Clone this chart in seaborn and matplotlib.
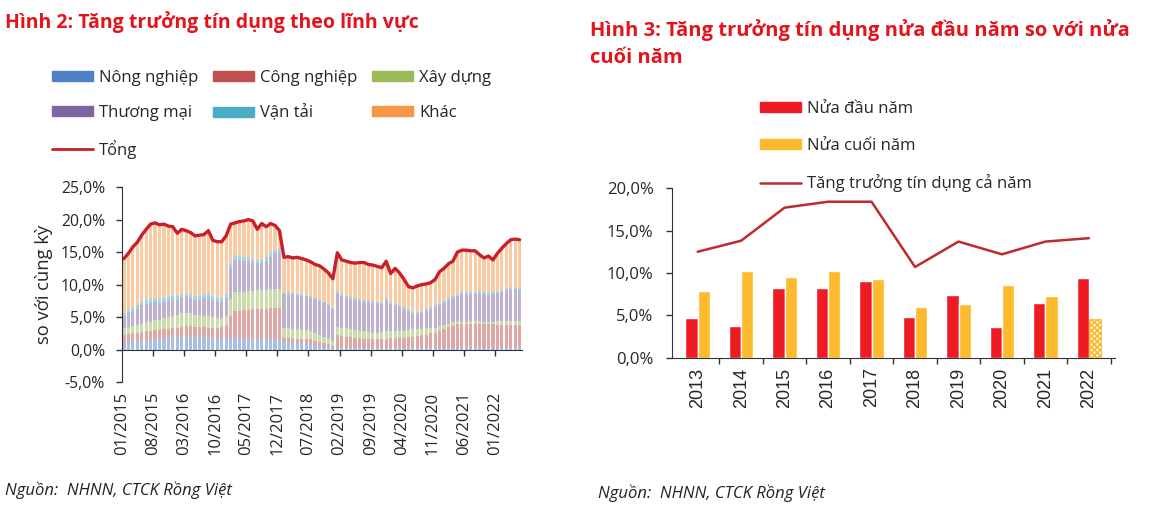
import numpy as np
import pandas as pd
import seaborn as sns
import matplotlib.pyplot as plt
from matplotlib.ticker import FuncFormatter
from matplotlib.patches import Patch
from matplotlib.lines import Line2D

# ---- Hình 2: tăng trưởng tín dụng theo lĩnh vực (so với cùng kỳ, %), 01/2015 - 06/2022
nong_nghiep = [1.0, 1.1, 1.2, 1.3, 1.4, 1.4, 1.5, 1.6, 1.7, 1.8,
               1.9, 1.9, 2.0, 2.0, 2.0, 2.0, 1.9, 1.9, 1.9, 1.9,
               1.8, 1.8, 1.8, 1.8, 1.8, 1.8, 1.8, 1.7, 1.7, 1.7,
               1.7, 1.7, 1.6, 1.6, 1.6, 1.6, 1.1, 1.1, 1.0, 1.0,
               0.9, 0.9, 0.8, 0.7, 0.6, 0.5, 0.4, 0.3, 0.2, 0.2,
               0.2, 0.2, 0.2, 0.2, 0.2, 0.2, 0.2, 0.2, 0.2, 0.2,
               0.2, 0.2, 0.2, 0.2, 0.2, 0.2, 0.2, 0.2, 0.2, 0.2,
               0.3, 0.3, 0.3, 0.3, 0.3, 0.3, 0.3, 0.3, 0.3, 0.3,
               0.3, 0.3, 0.3, 0.3, 0.3, 0.3, 0.3, 0.3, 0.3, 0.3]
cong_nghiep = [1.3, 1.3, 1.3, 1.3, 1.3, 1.4, 1.4, 1.4, 1.3, 1.3,
               1.3, 1.4, 1.4, 1.5, 1.6, 1.6, 1.6, 1.6, 1.6, 1.5,
               1.6, 1.6, 1.7, 2.0, 3.4, 4.2, 4.2, 4.4, 4.4, 4.5,
               4.6, 4.6, 4.7, 4.8, 4.8, 4.8, 0.7, 0.7, 0.8, 0.7,
               0.8, 0.7, 0.8, 0.7, 0.6, 0.5, 0.4, 0.3, 2.0, 1.9,
               1.8, 1.7, 1.6, 1.6, 1.5, 1.5, 1.4, 1.4, 1.5, 1.5,
               1.6, 1.6, 1.6, 1.6, 1.7, 1.8, 1.9, 2.0, 2.1, 2.3,
               2.3, 2.6, 2.9, 3.2, 3.4, 3.6, 3.6, 3.6, 3.7, 3.7,
               3.7, 3.6, 3.6, 3.6, 3.5, 3.5, 3.5, 3.5, 3.5, 3.5]
xay_dung = [1.0, 1.1, 1.2, 1.2, 1.3, 1.4, 1.4, 1.5, 1.6, 1.7,
            1.8, 1.9, 2.0, 2.1, 2.1, 2.0, 1.9, 1.8, 1.7, 1.7,
            1.6, 1.5, 1.4, 1.4, 2.6, 2.8, 2.8, 2.8, 2.9, 2.8,
            2.8, 2.9, 2.9, 2.9, 3.0, 3.0, 1.6, 1.5, 1.4, 1.4,
            1.3, 1.4, 1.3, 1.2, 1.1, 1.0, 0.8, 0.7, 1.3, 1.3,
            1.3, 1.2, 1.2, 1.1, 1.1, 1.0, 1.0, 1.0, 1.0, 1.1,
            1.1, 1.1, 1.1, 1.1, 1.1, 1.1, 1.0, 1.0, 1.0, 0.8,
            0.8, 0.7, 0.6, 0.5, 0.5, 0.5, 0.4, 0.4, 0.4, 0.4,
            0.4, 0.4, 0.4, 0.4, 0.6, 0.6, 0.6, 0.6, 0.6, 0.6]
thuong_mai = [1.9, 2.2, 2.3, 2.5, 2.8, 2.8, 2.9, 2.8, 2.6, 2.6,
              2.6, 2.6, 2.3, 2.4, 2.5, 2.4, 2.3, 2.3, 2.7, 3.0,
              2.6, 2.6, 2.5, 2.8, 4.7, 5.0, 4.9, 4.7, 4.6, 4.5,
              4.2, 4.2, 4.4, 5.0, 5.4, 5.6, 5.1, 5.3, 5.3, 5.3,
              5.3, 5.2, 5.1, 5.2, 5.2, 5.2, 5.2, 4.9, 5.2, 4.9,
              4.7, 4.7, 4.6, 4.6, 4.6, 4.6, 4.6, 4.5, 4.3, 4.8,
              4.1, 3.9, 3.7, 3.3, 2.9, 2.4, 2.4, 2.5, 2.6, 2.9,
              3.2, 3.3, 3.4, 3.6, 3.8, 3.9, 4.2, 4.2, 4.2, 4.2,
              4.3, 4.2, 4.1, 4.3, 4.3, 4.5, 4.7, 4.9, 4.9, 4.8]
van_tai = [0.4, 0.5, 0.5, 0.5, 0.6, 0.7, 0.8, 0.7, 0.6, 0.6,
           0.6, 0.6, 0.5, 0.5, 0.5, 0.5, 0.6, 0.6, 0.7, 0.6,
           0.6, 0.6, 0.5, 0.5, 0.9, 0.8, 0.7, 0.6, 0.6, 0.5,
           0.5, 0.6, 0.6, 0.6, 0.6, 0.6, 0.2, 0.2, 0.2, 0.2,
           0.2, 0.2, 0.2, 0.2, 0.2, 0.2, 0.2, 0.2, 0.3, 0.3,
           0.3, 0.3, 0.3, 0.3, 0.3, 0.3, 0.3, 0.3, 0.3, 0.3,
           0.3, 0.3, 0.3, 0.3, 0.3, 0.3, 0.3, 0.3, 0.3, 0.3,
           0.3, 0.3, 0.3, 0.3, 0.3, 0.3, 0.3, 0.3, 0.3, 0.3,
           0.3, 0.3, 0.3, 0.3, 0.3, 0.3, 0.3, 0.3, 0.3, 0.3]
khac = [8.4, 8.6, 9.3, 9.7, 10.2, 10.8, 11.3, 11.5, 11.4, 11.3,
        10.8, 10.5, 9.7, 10.0, 9.6, 9.5, 9.2, 9.4, 9.1, 9.6,
        8.6, 8.5, 8.7, 9.0, 5.9, 4.9, 5.3, 5.6, 5.8, 5.8,
        4.7, 5.4, 4.7, 4.5, 3.7, 2.7, 5.5, 5.5, 5.4, 5.6,
        5.5, 5.4, 5.3, 5.1, 5.2, 5.0, 4.8, 4.5, 5.9, 5.2,
        5.3, 5.3, 5.4, 5.6, 5.7, 5.5, 5.5, 5.4, 5.3, 5.7,
        4.4, 5.4, 4.9, 4.3, 3.5, 3.7, 4.0, 4.0, 3.9, 3.8,
        3.9, 4.8, 5.0, 5.3, 5.3, 6.4, 6.5, 6.5, 6.3, 6.3,
        5.6, 5.3, 5.7, 4.9, 5.8, 6.4, 6.9, 7.3, 7.4, 7.4]
tong = [14.0, 14.8, 15.8, 16.5, 17.6, 18.5, 19.3, 19.5, 19.2, 19.3,
        19.0, 18.9, 17.9, 18.5, 18.3, 18.0, 17.5, 17.6, 17.7, 18.3,
        16.8, 16.6, 16.6, 17.5, 19.3, 19.5, 19.7, 19.8, 20.0, 19.8,
        18.5, 19.4, 18.9, 19.4, 19.1, 18.3, 14.2, 14.3, 14.1, 14.2,
        14.0, 13.8, 13.5, 13.1, 12.9, 12.4, 11.8, 10.9, 14.9, 13.8,
        13.6, 13.4, 13.3, 13.4, 13.4, 13.1, 13.0, 12.8, 12.6, 13.6,
        11.7, 12.5, 11.8, 10.8, 9.7, 9.5, 9.8, 10.0, 10.1, 10.3,
        10.8, 12.0, 12.5, 13.2, 13.6, 15.0, 15.3, 15.3, 15.2, 15.2,
        14.6, 14.1, 14.4, 13.8, 14.8, 15.6, 16.3, 16.9, 17.0, 16.9]

sectors = ['Nông nghiệp', 'Công nghiệp', 'Xây dựng', 'Thương mại', 'Vận tải', 'Khác']
sector_colors = ['#4F81C7', '#C0504D', '#9BBB59', '#8064A2', '#4BACC6', '#F79646']

# ---- Hình 3: nửa đầu năm / nửa cuối năm
years = ['2013', '2014', '2015', '2016', '2017', '2018', '2019', '2020', '2021', '2022']
nua_dau = [4.7, 3.7, 8.2, 8.2, 9.0, 4.85, 7.4, 3.6, 6.4, 9.4]
nua_cuoi = [7.9, 10.2, 9.5, 10.2, 9.25, 6.0, 6.3, 8.6, 7.3, 4.6]
ca_nam = [12.5, 13.8, 17.7, 18.4, 18.4, 10.7, 13.7, 12.2, 13.7, 14.1]

sns.set_style('white')
plt.rcParams['font.family'] = ['Open Sans', 'DejaVu Sans']

RED_TITLE = '#E3141C'
AX_COLOR = '#333333'
pct = FuncFormatter(lambda v, pos: f'{v:.1f}%'.replace('.', ','))

fig = plt.figure(figsize=(11.7, 5.3), dpi=100)

# ================= left chart =================
n = len(tong)
months = pd.date_range('2015-01-01', periods=n, freq='MS').strftime('%m/%Y')
df_left = pd.DataFrame({
    'idx': np.tile(np.arange(n), len(sectors)),
    'sector': np.repeat(sectors, n),
    'value': np.concatenate([nong_nghiep, cong_nghiep, xay_dung, thuong_mai, van_tai, khac]),
})

ax1 = fig.add_axes([0.104, 0.279, 0.342, 0.368])
sns.histplot(data=df_left, x='idx', weights='value', hue='sector',
             hue_order=sectors[::-1], palette=dict(zip(sectors, sector_colors)),
             multiple='stack', discrete=True, shrink=0.72, alpha=0.5,
             linewidth=0, legend=False, ax=ax1)
sns.lineplot(x=np.arange(n), y=tong, color='#C8202A', lw=2.4, ax=ax1)

ax1.set_xlim(-0.5, n - 0.5)
ax1.set_ylim(-5, 25)
ax1.set_yticks([-5, 0, 5, 10, 15, 20, 25])
ax1.yaxis.set_major_formatter(pct)
ax1.set_ylabel('so với cùng kỳ', fontsize=13.2, labelpad=6)
ax1.set_xlabel('')
tick_pos = np.arange(0, n, 7) - 0.5
ax1.set_xticks(tick_pos)
ax1.set_xticklabels(months[::7], rotation=90, fontsize=12)
ax1.tick_params(axis='x', length=0, pad=7)
ax1.tick_params(axis='y', direction='out', length=4, width=1, color=AX_COLOR,
                labelsize=11.3, left=True, pad=8)
for s in ['top', 'right', 'bottom']:
    ax1.spines[s].set_visible(False)
ax1.spines['left'].set_color(AX_COLOR)

# 0% baseline with tick marks
base = ax1.secondary_xaxis(5 / 30)
base.set_xticks(tick_pos[1:])
base.tick_params(direction='out', length=4, width=1, color=AX_COLOR, labelbottom=False)
base.spines['bottom'].set_color(AX_COLOR)

h = [Patch(color=c) for c in sector_colors]
tong_h = Line2D([], [], color='#C8202A', lw=2)
handles = [h[0], h[3], tong_h, h[1], h[4], h[2], h[5]]
labels = ['Nông nghiệp', 'Thương mại', 'Tổng', 'Công nghiệp', 'Vận tải', 'Xây dựng', 'Khác']
fig.legend(handles, labels, ncol=3, loc='upper left', bbox_to_anchor=(0.032, 0.897),
           frameon=False, fontsize=12, handlelength=2.45, handleheight=0.55,
           handletextpad=0.35, labelspacing=1.15, columnspacing=0.9)

fig.text(0.004, 1 - 22 / 530, 'Hình 2: Tăng trưởng tín dụng theo lĩnh vực',
         color=RED_TITLE, fontsize=14, fontweight='bold', va='center')
fig.text(0.004, 1 - 490 / 530, 'Nguồn:  NHNN, CTCK Rồng Việt',
         fontsize=12, style='italic', va='center', color='#222222')

# ================= right chart =================
df_right = pd.DataFrame({
    'year': years * 2,
    'half': ['Nửa đầu năm'] * len(years) + ['Nửa cuối năm'] * len(years),
    'value': nua_dau + nua_cuoi,
})
half_colors = {'Nửa đầu năm': '#EE1B24', 'Nửa cuối năm': '#FDBA2C'}

ax2 = fig.add_axes([0.574, 0.325, 0.379, 0.32])
sns.barplot(data=df_right, x='year', y='value', hue='half', palette=half_colors,
            width=0.56, saturation=1, legend=False, ax=ax2)
# 2022 second half is still an estimate -> hatched
last = ax2.patches[2 * len(years) - 1]
last.set_facecolor('#FFF1C9')
last.set_edgecolor('#F5B92E')
last.set_hatch('xxxxxx')
last.set_linewidth(0.6)

sns.lineplot(x=np.arange(len(years)), y=ca_nam, color='#BE2B2F', lw=1.8, ax=ax2)

ax2.set_xlim(-0.6, len(years) - 0.4)
ax2.set_ylim(0, 20)
ax2.set_yticks([0, 5, 10, 15, 20])
ax2.yaxis.set_major_formatter(pct)
ax2.set_xlabel('')
ax2.set_ylabel('')
ax2.set_xticks(np.arange(len(years)))
ax2.set_xticklabels(years, rotation=90, fontsize=13, family=['Liberation Sans', 'DejaVu Sans'])
ax2.tick_params(axis='x', length=0, pad=7)
ax2.set_xticks(np.arange(len(years)) + 0.5, minor=True)
ax2.tick_params(axis='x', which='minor', direction='out', length=4, width=1,
                color=AX_COLOR, bottom=True)
ax2.tick_params(axis='y', direction='out', length=4, width=1, color=AX_COLOR,
                labelsize=12, left=True, pad=9)
for s in ['top', 'right']:
    ax2.spines[s].set_visible(False)
for s in ['left', 'bottom']:
    ax2.spines[s].set_color(AX_COLOR)

h2 = [Patch(color=half_colors['Nửa đầu năm']), Patch(color=half_colors['Nửa cuối năm']),
      Line2D([], [], color='#BE2B2F', lw=1.8)]
fig.legend(h2, ['Nửa đầu năm', 'Nửa cuối năm', 'Tăng trưởng tín dụng cả năm'],
           loc='upper left', bbox_to_anchor=(0.637, 0.838), frameon=False,
           fontsize=12, handlelength=2.45, handleheight=0.55, handletextpad=0.35,
           labelspacing=1.25)

fig.text(0.504, 1 - 19 / 530,
         'Hình 3: Tăng trưởng tín dụng nửa đầu năm so với nửa\ncuối năm',
         color=RED_TITLE, fontsize=14.5, fontweight='bold', va='top', linespacing=1.5)
fig.text(0.511, 1 - 493 / 530, 'Nguồn:  NHNN, CTCK Rồng Việt',
         fontsize=12, style='italic', va='center', color='#222222')

fig.savefig('out.png', dpi=100)
